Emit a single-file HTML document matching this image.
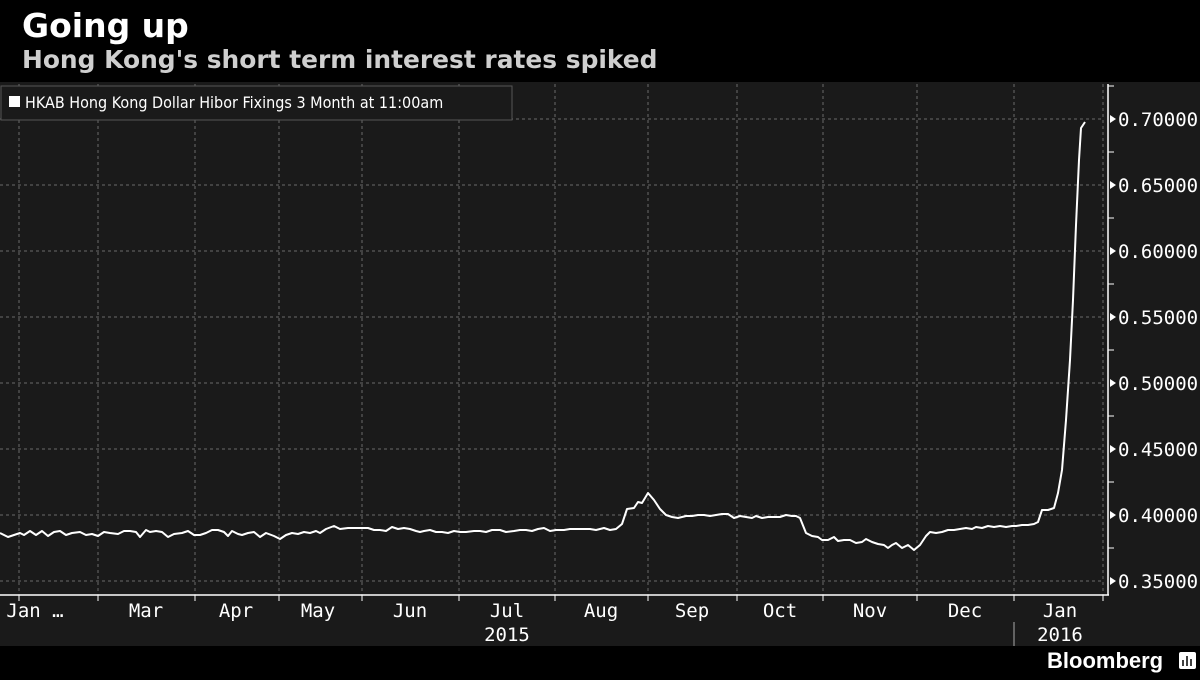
<!DOCTYPE html>
<html><head><meta charset="utf-8"><style>
body{margin:0;background:#000;width:1200px;height:675px;overflow:hidden;font-family:"Liberation Sans",sans-serif}
</style></head><body>
<svg width="1200" height="675" xmlns="http://www.w3.org/2000/svg" font-family="DejaVu Sans Mono, Liberation Mono, monospace">
<rect width="1200" height="675" fill="#000"/>
<text x="22" y="37" fill="#fff" font-family="DejaVu Sans, sans-serif" font-weight="bold" font-size="33">Going up</text>
<text x="22" y="68" fill="#cfcfcf" font-family="DejaVu Sans, sans-serif" font-weight="bold" font-size="24.9">Hong Kong's short term interest rates spiked</text>
<rect x="0" y="82" width="1200" height="564" fill="#1a1a1a"/>
<g stroke="#6a6a6a" stroke-dasharray="3,3" stroke-width="1">
<line x1="0" x2="1104" y1="119" y2="119"/><line x1="0" x2="1104" y1="185" y2="185"/>
<line x1="0" x2="1104" y1="251" y2="251"/><line x1="0" x2="1104" y1="317" y2="317"/>
<line x1="0" x2="1104" y1="383" y2="383"/><line x1="0" x2="1104" y1="449" y2="449"/>
<line x1="0" x2="1104" y1="515" y2="515"/><line x1="0" x2="1104" y1="581" y2="581"/>
<line x1="19" x2="19" y1="84" y2="595"/><line x1="98" x2="98" y1="84" y2="595"/>
<line x1="195" x2="195" y1="84" y2="595"/><line x1="279" x2="279" y1="84" y2="595"/>
<line x1="362" x2="362" y1="84" y2="595"/><line x1="459" x2="459" y1="84" y2="595"/>
<line x1="555" x2="555" y1="84" y2="595"/><line x1="648" x2="648" y1="84" y2="595"/>
<line x1="737" x2="737" y1="84" y2="595"/><line x1="823" x2="823" y1="84" y2="595"/>
<line x1="917" x2="917" y1="84" y2="595"/><line x1="1014" x2="1014" y1="84" y2="595"/>
<line x1="1103" x2="1103" y1="84" y2="595"/>
</g>
<g stroke="#fff" stroke-width="1.5">
<line x1="0" x2="1109" y1="595" y2="595"/><line x1="1108" x2="1108" y1="84" y2="595"/>
</g>
<g stroke="#fff" stroke-width="1">
<line x1="19" x2="19" y1="595" y2="601"/><line x1="98" x2="98" y1="595" y2="601"/>
<line x1="195" x2="195" y1="595" y2="601"/><line x1="279" x2="279" y1="595" y2="601"/>
<line x1="362" x2="362" y1="595" y2="601"/><line x1="459" x2="459" y1="595" y2="601"/>
<line x1="555" x2="555" y1="595" y2="601"/><line x1="648" x2="648" y1="595" y2="601"/>
<line x1="737" x2="737" y1="595" y2="601"/><line x1="823" x2="823" y1="595" y2="601"/>
<line x1="917" x2="917" y1="595" y2="601"/><line x1="1014" x2="1014" y1="595" y2="601"/>
<line x1="1103" x2="1103" y1="595" y2="601"/>
<line x1="1108" x2="1114" y1="86" y2="86"/><line x1="1108" x2="1114" y1="152" y2="152"/>
<line x1="1108" x2="1114" y1="218" y2="218"/><line x1="1108" x2="1114" y1="284" y2="284"/>
<line x1="1108" x2="1114" y1="350" y2="350"/><line x1="1108" x2="1114" y1="416" y2="416"/>
<line x1="1108" x2="1114" y1="482" y2="482"/><line x1="1108" x2="1114" y1="548" y2="548"/>
<line x1="1014" x2="1014" y1="622" y2="646" stroke="#aaa"/>
</g>
<g fill="#fff">
<path d="M1110,115 l6,4 l-6,4z"/><path d="M1110,181 l6,4 l-6,4z"/><path d="M1110,247 l6,4 l-6,4z"/>
<path d="M1110,313 l6,4 l-6,4z"/><path d="M1110,379 l6,4 l-6,4z"/><path d="M1110,445 l6,4 l-6,4z"/>
<path d="M1110,511 l6,4 l-6,4z"/><path d="M1110,577 l6,4 l-6,4z"/>
</g>
<g fill="#fff" font-size="19">
<text x="1118" y="126">0.70000</text><text x="1118" y="192">0.65000</text>
<text x="1118" y="258">0.60000</text><text x="1118" y="324">0.55000</text>
<text x="1118" y="390">0.50000</text><text x="1118" y="456">0.45000</text>
<text x="1118" y="522">0.40000</text><text x="1118" y="588">0.35000</text>
</g>
<g fill="#fff" font-size="19" text-anchor="middle">
<text x="35" y="617">Jan …</text><text x="146" y="617">Mar</text><text x="236" y="617">Apr</text>
<text x="318" y="617">May</text><text x="410" y="617">Jun</text><text x="507" y="617">Jul</text>
<text x="601" y="617">Aug</text><text x="692" y="617">Sep</text><text x="780" y="617">Oct</text>
<text x="870" y="617">Nov</text><text x="965" y="617">Dec</text><text x="1060" y="617">Jan</text>
<text x="507" y="641">2015</text><text x="1060" y="641">2016</text>
</g>
<rect x="1" y="86" width="511" height="34" fill="#1a1a1a" stroke="#555"/>
<rect x="9" y="96" width="11" height="11" fill="#fff"/>
<text x="25" y="108" fill="#fff" font-size="16" font-family="DejaVu Sans Condensed, DejaVu Sans, sans-serif">HKAB Hong Kong Dollar Hibor Fixings 3 Month at 11:00am</text>
<polyline fill="none" stroke="#fff" stroke-width="2" stroke-linejoin="round" points="
0,533 8,537 14,535 20,533 24,535 30,531 36,535 42,531 48,536 54,532 60,531 66,535 72,533 80,532 86,535 92,534 98,536 104,532 110,533 118,534 124,531 130,531 136,532 140,537 146,530 150,532 156,531 162,532 168,537 174,534 182,533 188,531 194,535 200,535 206,533 212,530 218,530 224,532 228,536 232,531 238,534 242,535 248,533 254,532 260,537 266,533 274,536 280,539 286,535 292,533 298,534 304,532 310,533 316,531 320,533 326,529 334,526 340,529 348,528 358,528 368,528 374,530 380,530 386,531 392,527 398,529 404,528 410,529 416,531 420,532 424,531 430,530 436,532 442,532 448,533 454,531 460,532 466,532 474,531 480,531 486,532 492,530 500,530 506,532 514,531 520,530 526,530 532,531 538,529 544,528 550,531 556,530 564,530 570,529 580,529 590,529 596,530 604,528 610,530 616,529 622,524 627,509 634,508 638,502 642,503 648,493 654,500 660,509 666,515 672,517 678,518 682,517 686,516 692,516 698,515 704,515 710,516 716,515 722,514 728,514 734,518 740,516 746,517 752,518 756,516 762,518 768,517 774,517 780,517 786,515 792,516 796,516 800,518 806,533 812,536 818,537 822,540 828,540 834,537 838,541 844,540 850,540 856,543 862,542 866,539 872,542 878,544 884,545 888,548 892,545 896,543 902,548 908,545 914,550 920,545 926,536 930,532 936,533 942,532 948,530 954,530 960,529 966,528 972,529 976,527 982,528 988,526 994,527 1000,526 1006,527 1012,526 1016,526 1022,525 1028,525 1034,524 1038,522 1042,510 1048,510 1054,508 1058,493 1062,470 1066,420 1070,360 1073,300 1076,225 1079,160 1081,128 1085,122"/>
<text x="1047" y="668" fill="#fff" font-family="Liberation Sans, sans-serif" font-weight="bold" font-size="22">Bloomberg</text>
<rect x="1179" y="652" width="17" height="17" rx="2" fill="#fff"/>
<g stroke="#000" stroke-width="1.5"><line x1="1183" y1="666" x2="1183" y2="660"/><line x1="1187" y1="666" x2="1187" y2="656"/><line x1="1191" y1="666" x2="1191" y2="659"/></g>
</svg>
</body></html>
